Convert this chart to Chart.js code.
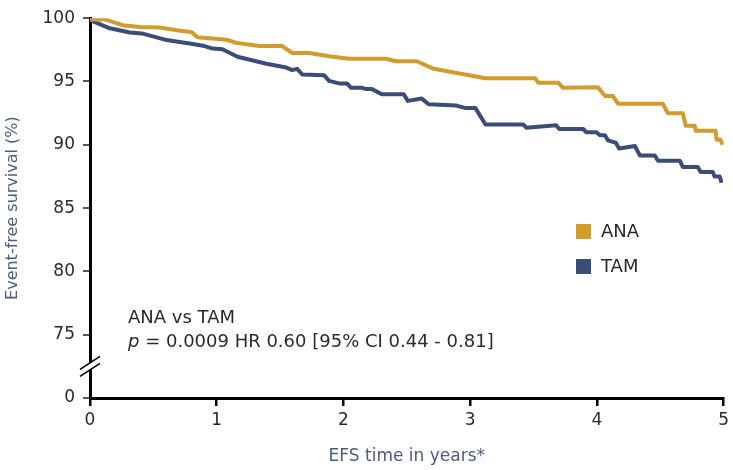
<!DOCTYPE html>
<html><head><meta charset="utf-8">
<script src="https://cdn.jsdelivr.net/npm/chart.js@4"></script>
<style>html,body{margin:0;padding:0;background:#fff}#wrap{width:733px;height:470px}</style>
</head><body><div id="wrap"><canvas id="c" width="733" height="470"></canvas></div>
<script>
const seriesNames = ['ANA', 'TAM'];
const seriesColors = ['#D49A2A', '#3A4C78'];
const anaTime = [0,0.118,0.259,0.393,0.550,0.684,0.802,0.849,1.077,1.156,1.336,1.517,1.596,1.730,1.887,2.044,2.335,2.414,2.579,2.712,3.121,3.514,3.538,3.695,3.734,4.009,4.064,4.127,4.167,4.520,4.560,4.678,4.701,4.772,4.780,4.937,4.945,4.976,4.992];
const anaSurv = [99.9,99.9,99.45,99.3,99.27,99.05,98.9,98.5,98.3,98.05,97.8,97.8,97.25,97.25,97.0,96.8,96.8,96.6,96.6,96.0,95.25,95.25,94.9,94.9,94.5,94.55,93.85,93.85,93.25,93.25,92.5,92.5,91.5,91.5,91.1,91.1,90.4,90.4,90.0];
const tamTime = [0,0.157,0.314,0.409,0.605,0.786,0.904,0.967,1.045,1.164,1.392,1.549,1.596,1.635,1.675,1.847,1.887,1.965,2.028,2.060,2.146,2.178,2.225,2.303,2.476,2.508,2.618,2.673,2.893,2.964,3.042,3.121,3.420,3.443,3.679,3.703,3.892,3.915,3.994,4.025,4.064,4.088,4.151,4.175,4.300,4.316,4.340,4.458,4.481,4.654,4.678,4.796,4.819,4.914,4.929,4.969,4.984];
const tamSurv = [99.85,99.2,98.87,98.8,98.27,98.0,97.8,97.6,97.55,96.95,96.4,96.1,95.9,96.0,95.55,95.5,95.05,94.85,94.85,94.5,94.5,94.4,94.4,94.0,94.0,93.47,93.65,93.2,93.1,92.9,92.9,91.6,91.6,91.35,91.55,91.25,91.25,91.0,91.0,90.75,90.75,90.35,90.15,89.7,89.9,89.6,89.15,89.15,88.75,88.75,88.25,88.25,87.85,87.85,87.5,87.5,87.0];
// y axis is broken: the lowest tick (70 position) is labelled 0
const yTickValues = [70, 75, 80, 85, 90, 95, 100];
const yTickLabels = ['0', '75', '80', '85', '90', '95', '100'];
const xTickLabels = ['0', '1', '2', '3', '4', '5'];
const annotLine1 = 'ANA vs TAM';
const annotLine2 = ' = 0.0009 HR 0.60 [95% CI 0.44 - 0.81]';

const FONT = '"DejaVu Sans", Verdana, sans-serif';
const TXT = '#2a2a2a';
const pts = (t, s) => t.map((v, i) => ({x: v, y: s[i]}));

const extras = {
  id: 'extras',
  afterDraw(chart) {
    const ctx = chart.ctx, ys = chart.scales.y, xs = chart.scales.x;
    ctx.save();
    // axis break
    const bx = xs.getPixelForValue(0);
    const by = ys.getPixelForValue(72.5);
    ctx.fillStyle = '#fff';
    ctx.beginPath();
    ctx.moveTo(bx - 9, by + 9); ctx.lineTo(bx + 9, by - 3);
    ctx.lineTo(bx + 9, by - 9); ctx.lineTo(bx - 9, by + 3);
    ctx.closePath(); ctx.fill();
    ctx.strokeStyle = '#000'; ctx.lineWidth = 1.6;
    ctx.beginPath();
    ctx.moveTo(bx - 10, by + 10); ctx.lineTo(bx + 10, by - 3);
    ctx.moveTo(bx - 10, by + 3); ctx.lineTo(bx + 10, by - 10);
    ctx.stroke();
    // annotation
    ctx.fillStyle = TXT;
    ctx.font = '18px ' + FONT;
    ctx.textBaseline = 'middle';
    ctx.textAlign = 'left';
    ctx.fillText(annotLine1, 128, 318);
    ctx.font = 'italic 18px ' + FONT;
    ctx.fillText('p', 128, 342);
    const pw = ctx.measureText('p').width;
    ctx.font = '18px ' + FONT;
    ctx.fillText(annotLine2, 128 + pw, 342);
    // legend
    chart.data.datasets.forEach((ds, i) => {
      const y = 231 + i * 35;
      ctx.fillStyle = ds.borderColor;
      ctx.fillRect(576, y - 7, 15, 15);
      ctx.fillStyle = TXT;
      ctx.font = '18px ' + FONT;
      ctx.fillText(ds.label, 601, y + 1);
    });
    ctx.restore();
  }
};

new Chart(document.getElementById('c'), {
  type: 'line',
  data: {
    datasets: [
      {label: seriesNames[0], data: pts(anaTime, anaSurv), borderColor: seriesColors[0], backgroundColor: seriesColors[0], borderWidth: 4, pointRadius: 0, tension: 0, borderJoinStyle: 'round'},
      {label: seriesNames[1], data: pts(tamTime, tamSurv), borderColor: seriesColors[1], backgroundColor: seriesColors[1], borderWidth: 4, pointRadius: 0, tension: 0, borderJoinStyle: 'round'}
    ]
  },
  options: {
    responsive: false,
    animation: false,
    layout: {padding: {top: 18, right: 7, left: 0, bottom: 0}},
    plugins: {legend: {display: false}, tooltip: {enabled: false}},
    scales: {
      x: {
        type: 'linear', min: 0, max: 5,
        afterFit: s => { s.height = 72; },
        afterBuildTicks: s => { s.ticks = xTickLabels.map(v => ({value: +v})); },
        ticks: {color: TXT, font: {size: 17, family: FONT}, padding: 4, callback: (v) => String(v)},
        grid: {drawOnChartArea: false, drawTicks: true, tickLength: 8, color: '#000', lineWidth: 2.5},
        border: {display: true, color: '#000', width: 3},
        title: {display: true, text: 'EFS time in years*', color: '#4B5B85', font: {size: 17, family: FONT}, padding: {top: 0, bottom: 3}}
      },
      y: {
        type: 'linear', min: 70, max: 100,
        afterFit: s => { s.width = 90; },
        afterBuildTicks: s => { s.ticks = yTickValues.map(v => ({value: v})); },
        ticks: {color: TXT, font: {size: 17, family: FONT}, padding: 8,
          callback: (v) => yTickLabels[yTickValues.indexOf(v)]},
        grid: {drawOnChartArea: false, drawTicks: true, tickLength: 7, color: '#555', lineWidth: 2},
        border: {display: true, color: '#000', width: 3},
        title: {display: true, text: 'Event-free survival (%)', color: '#4B5B85', font: {size: 16, family: FONT}, padding: {top: 3, bottom: 0}}
      }
    }
  },
  plugins: [extras]
});
</script>
</body></html>
